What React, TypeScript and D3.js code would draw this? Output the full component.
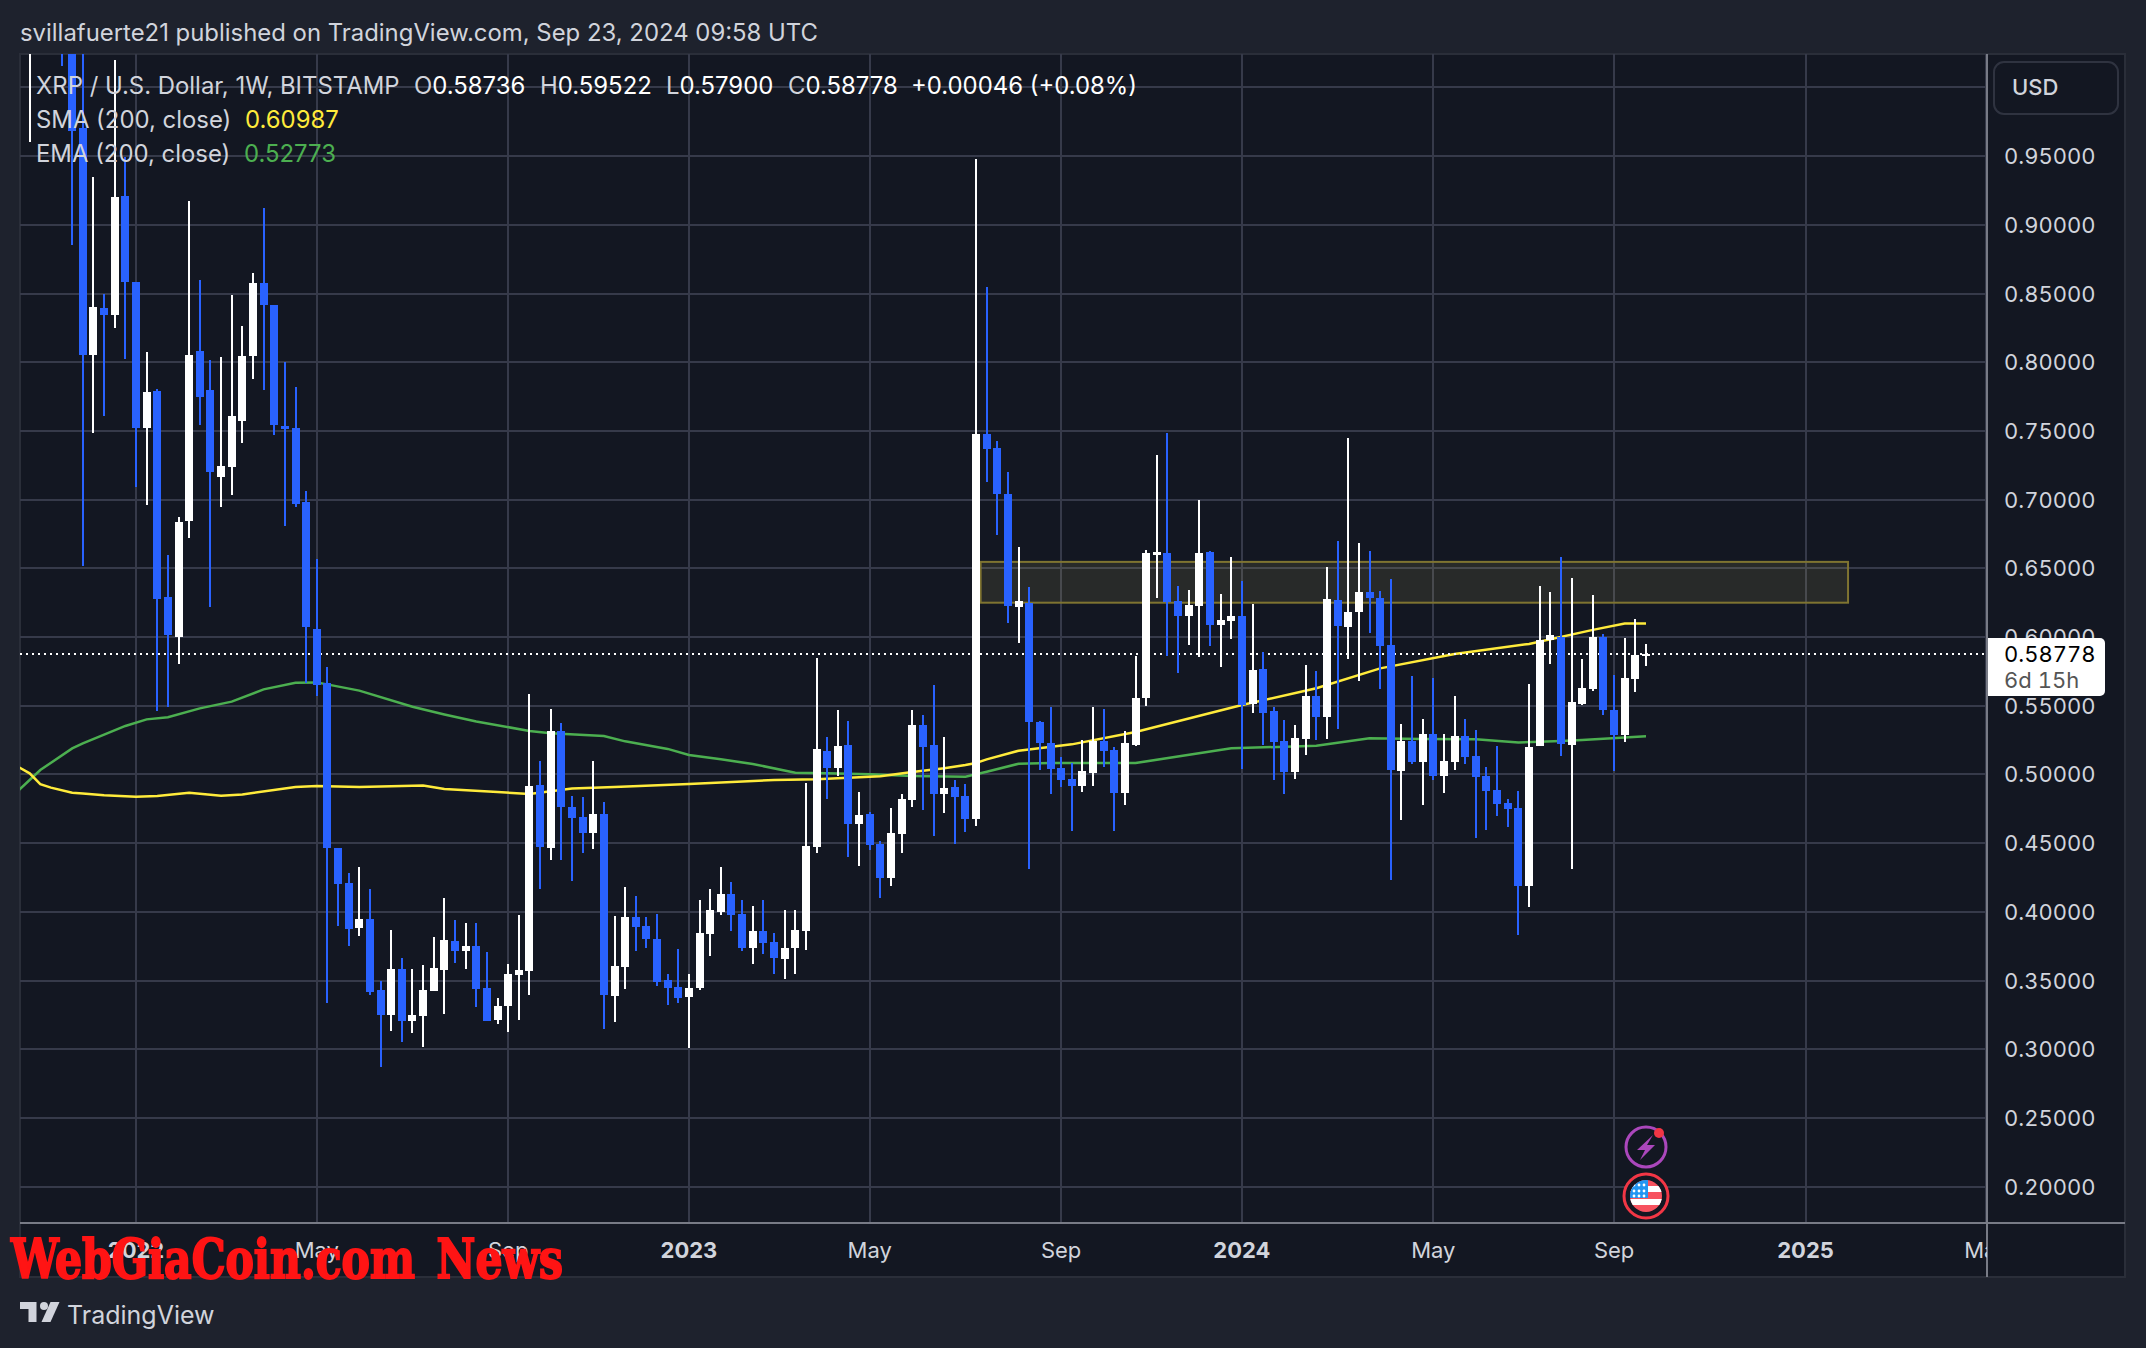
import * as d3 from 'd3';
import React from 'react';

// weekly candles, first one is the week of 2021-10-25
const opens = [
  1.09, 1.12, 1.2, 1.16, 1.06, 0.9707, 0.8052, 0.8394, 0.8344, 0.921, 0.8584, 0.7521, 0.779, 0.6291, 0.6003, 0.6845,
  0.8082, 0.7798, 0.7167, 0.724, 0.7572, 0.8045, 0.8576, 0.8416, 0.7536, 0.7521, 0.6983, 0.6058, 0.5663, 0.4465,
  0.421, 0.3883, 0.3948, 0.3432, 0.325, 0.3584, 0.3206, 0.3242, 0.3424, 0.3577, 0.3788, 0.3715, 0.3752, 0.3446,
  0.3213, 0.3315, 0.3541, 0.357, 0.4924, 0.4465, 0.5317, 0.4763, 0.4691, 0.4574, 0.4713, 0.3388, 0.3599, 0.3963,
  0.3897, 0.3803, 0.3504, 0.3453, 0.3381, 0.3446, 0.3839, 0.4, 0.413, 0.3985, 0.3737, 0.3861, 0.3781, 0.3657,
  0.3737, 0.3861, 0.4472, 0.5171, 0.5047, 0.5215, 0.464, 0.4713, 0.4494, 0.4247, 0.4567, 0.4814, 0.536, 0.5215,
  0.4858, 0.4909, 0.4843, 0.4676, 0.7477, 0.7375, 0.7041, 0.6218, 0.6248, 0.5382, 0.5229, 0.5047, 0.4967, 0.4916,
  0.501, 0.5243, 0.5178, 0.4865, 0.5214, 0.5556, 0.66, 0.6611, 0.6262, 0.6153, 0.6226, 0.6618, 0.6088, 0.6117,
  0.6153, 0.5513, 0.5767, 0.5462, 0.5243, 0.5018, 0.5258, 0.5571, 0.5418, 0.6269, 0.6073, 0.6182, 0.6328, 0.6284,
  0.5942, 0.5025, 0.5244, 0.5091, 0.5295, 0.4989, 0.5091, 0.528, 0.5135, 0.4989, 0.4887, 0.4793, 0.4756, 0.4188,
  0.5207, 0.5979, 0.6001, 0.5215, 0.5513, 0.5622, 0.6001, 0.5469, 0.5287, 0.5695, 0.58736,
];
const highs = [
  1.2, 1.25, 1.35, 1.22, 1.1, 1.05, 0.9348, 0.8496, 1.0199, 0.9496, 0.8584, 0.8072, 0.7805, 0.6597, 0.6874, 0.9173,
  0.8598, 0.8017, 0.8038, 0.8489, 0.8264, 0.8647, 0.9122, 0.8416, 0.8, 0.782, 0.7063, 0.6568, 0.5782, 0.4465,
  0.4283, 0.4327, 0.4167, 0.3497, 0.3868, 0.3665, 0.3584, 0.3614, 0.3817, 0.4101, 0.3941, 0.3919, 0.3919, 0.3708,
  0.3373, 0.3621, 0.3977, 0.5586, 0.5098, 0.5477, 0.5375, 0.4843, 0.4836, 0.5098, 0.48, 0.397, 0.4181, 0.4116,
  0.3963, 0.3985, 0.3548, 0.373, 0.3548, 0.4087, 0.4167, 0.4327, 0.4218, 0.4087, 0.4043, 0.4087, 0.3846, 0.4014,
  0.4014, 0.4938, 0.5848, 0.5273, 0.5469, 0.5389, 0.4873, 0.4727, 0.4516, 0.4756, 0.4858, 0.5469, 0.5433, 0.5651,
  0.5273, 0.496, 0.4931, 0.9479, 0.8547, 0.7426, 0.7201, 0.6655, 0.6364, 0.5389, 0.5491, 0.5127, 0.5083, 0.5251,
  0.5491, 0.5476, 0.52, 0.5316, 0.5862, 0.6633, 0.7324, 0.7484, 0.6371, 0.6342, 0.6997, 0.6626, 0.6313, 0.6582,
  0.6408, 0.624, 0.5891, 0.5491, 0.5396, 0.536, 0.5796, 0.5753, 0.6509, 0.6699, 0.7448, 0.6684, 0.6626, 0.6335,
  0.6422, 0.5367, 0.5717, 0.5404, 0.5702, 0.5295, 0.5571, 0.5404, 0.5324, 0.5055, 0.5207, 0.4822, 0.488, 0.5659,
  0.6372, 0.6328, 0.6583, 0.643, 0.5841, 0.6306, 0.6023, 0.5724, 0.5993, 0.6132, 0.59522,
];
const lows = [
  0.9605, 1.08, 1.1, 1.0158, 0.8856, 0.6519, 0.7487, 0.7611, 0.8249, 0.8023, 0.7094, 0.6963, 0.5464, 0.5493, 0.5806,
  0.6723, 0.7543, 0.6221, 0.6949, 0.7034, 0.7415, 0.7878, 0.7798, 0.747, 0.6808, 0.6949, 0.5666, 0.5571, 0.3337,
  0.3897, 0.3752, 0.3825, 0.3395, 0.2871, 0.3133, 0.3053, 0.3119, 0.3017, 0.3424, 0.3257, 0.3628, 0.3584, 0.3308,
  0.3206, 0.3184, 0.3126, 0.3213, 0.3395, 0.4167, 0.4378, 0.4378, 0.4225, 0.4429, 0.4458, 0.3148, 0.3199, 0.3439,
  0.3715, 0.3737, 0.3461, 0.3322, 0.3337, 0.3007, 0.3432, 0.3679, 0.3977, 0.3861, 0.3715, 0.3621, 0.3694, 0.3548,
  0.3512, 0.3548, 0.3723, 0.4429, 0.4822, 0.4989, 0.44, 0.4334, 0.4451, 0.4101, 0.4188, 0.4429, 0.4763, 0.4742,
  0.4552, 0.472, 0.4494, 0.4582, 0.4625, 0.7128, 0.6742, 0.6102, 0.5956, 0.4312, 0.5032, 0.4858, 0.4908, 0.4588,
  0.4872, 0.4916, 0.5054, 0.4588, 0.4777, 0.5207, 0.5498, 0.6284, 0.5862, 0.5738, 0.5942, 0.5855, 0.5935, 0.5782,
  0.5986, 0.5039, 0.5447, 0.5214, 0.4959, 0.4858, 0.4967, 0.5141, 0.5251, 0.5258, 0.5331, 0.584, 0.568, 0.6029,
  0.5622, 0.4231, 0.4668, 0.5076, 0.4778, 0.496, 0.4865, 0.5033, 0.5076, 0.4538, 0.4596, 0.4698, 0.4618, 0.3833,
  0.4036, 0.5207, 0.5804, 0.5135, 0.4312, 0.5506, 0.5608, 0.5433, 0.5025, 0.5236, 0.56, 0.579,
];
const closes = [
  1.12, 1.2, 1.16, 1.06, 0.9685, 0.8052, 0.8402, 0.8344, 0.9202, 0.8584, 0.7521, 0.7783, 0.6279, 0.6015, 0.6837,
  0.8052, 0.7747, 0.7204, 0.7245, 0.7609, 0.8045, 0.8576, 0.8416, 0.7543, 0.7514, 0.6971, 0.6075, 0.5651, 0.4465,
  0.4203, 0.3876, 0.3948, 0.3417, 0.325, 0.3584, 0.3206, 0.325, 0.3432, 0.3592, 0.3796, 0.3715, 0.3752, 0.3439,
  0.3206, 0.3315, 0.3548, 0.3577, 0.4916, 0.4472, 0.5317, 0.4763, 0.4683, 0.4574, 0.4713, 0.3395, 0.3606, 0.3963,
  0.389, 0.3803, 0.349, 0.3446, 0.3373, 0.3446, 0.3846, 0.4014, 0.413, 0.3977, 0.3737, 0.3861, 0.3774, 0.3664,
  0.3737, 0.3868, 0.448, 0.5186, 0.5047, 0.5207, 0.464, 0.4705, 0.4487, 0.4247, 0.4574, 0.4822, 0.536, 0.52, 0.4858,
  0.4902, 0.4836, 0.4676, 0.7477, 0.7368, 0.7041, 0.6226, 0.6262, 0.5382, 0.5229, 0.5039, 0.4959, 0.4916, 0.5025,
  0.5243, 0.5171, 0.4865, 0.5229, 0.5556, 0.6611, 0.6618, 0.6255, 0.6153, 0.6233, 0.6611, 0.6088, 0.6124, 0.6153,
  0.5505, 0.576, 0.5447, 0.5236, 0.5018, 0.5265, 0.5571, 0.5418, 0.6277, 0.608, 0.6182, 0.6328, 0.6284, 0.5935,
  0.5032, 0.5243, 0.5091, 0.5295, 0.4989, 0.5098, 0.528, 0.5127, 0.4982, 0.488, 0.4785, 0.4749, 0.4188, 0.52, 0.5979,
  0.6015, 0.5222, 0.5528, 0.563, 0.6001, 0.5469, 0.5287, 0.5702, 0.587, 0.58778,
];

const smaWeeks = [-11, -10, -9, -8, -6, -5, -3, 0, 2, 5, 8, 10, 15, 17, 21, 27, 29, 34, 37, 41, 45, 52, 60, 64, 70, 73, 76, 78, 79, 80, 83, 88, 94, 104, 111, 117, 124, 131, 137, 140, 142];
const smaValues = [0.5052, 0.5008, 0.493, 0.4904, 0.4867, 0.4862, 0.4848, 0.4838, 0.4843, 0.4867, 0.4845, 0.4855, 0.4909, 0.4916, 0.4909, 0.4919, 0.4894, 0.4872, 0.4858, 0.4897, 0.4909, 0.4931, 0.496, 0.4965, 0.4987, 0.5018, 0.5045, 0.5069, 0.5084, 0.511, 0.5173, 0.5219, 0.5309, 0.5505, 0.5627, 0.5772, 0.5877, 0.595, 0.6052, 0.6098, 0.60987];
const emaWeeks = [-11, -9, -6, -5, -1, 1, 3, 6, 9, 12, 15, 17, 21, 26, 29, 32, 37, 39, 44, 46, 50, 52, 55, 58, 62, 65, 69, 73, 78, 79, 80, 83, 86, 94, 103, 111, 116, 121, 126, 130, 134, 136, 142];
const emaValues = [0.4887, 0.5032, 0.519, 0.5226, 0.5353, 0.5401, 0.5416, 0.5481, 0.553, 0.5619, 0.5668, 0.567, 0.561, 0.5493, 0.5437, 0.5385, 0.5317, 0.53, 0.528, 0.5241, 0.5186, 0.5142, 0.511, 0.5076, 0.5013, 0.5008, 0.5001, 0.4989, 0.4984, 0.5001, 0.502, 0.5078, 0.5083, 0.5083, 0.519, 0.5209, 0.5263, 0.5258, 0.5256, 0.5232, 0.5244, 0.5251, 0.52773];

const priceTicks = [0.2, 0.25, 0.3, 0.35, 0.4, 0.45, 0.5, 0.55, 0.6, 0.65, 0.7, 0.75, 0.8, 0.85, 0.9, 0.95, 1];
const timeTicks = [
  { date: '2022-01-03', label: '2022', bold: true },
  { date: '2022-05-02', label: 'May' },
  { date: '2022-09-05', label: 'Sep' },
  { date: '2023-01-02', label: '2023', bold: true },
  { date: '2023-05-01', label: 'May' },
  { date: '2023-09-04', label: 'Sep' },
  { date: '2024-01-01', label: '2024', bold: true },
  { date: '2024-05-06', label: 'May' },
  { date: '2024-09-02', label: 'Sep' },
  { date: '2025-01-06', label: '2025', bold: true },
  { date: '2025-05-05', label: 'May' },
];
const zoneTop = 0.6547;
const zoneBottom = 0.625;
const zoneStart = '2023-07-13';
const zoneEnd = '2025-02-03';
const lastPrice = 0.58778;
const FONT = 'Inter, "Noto Sans", sans-serif';

const firstWeek = new Date(Date.UTC(2022, 0, 3));
const lastWeek = new Date(Date.UTC(2024, 8, 23));
const weekDate = (k: number) => d3.utcMonday.offset(firstWeek, k);

const width = 2146;
const height = 1348;
const pane = { left: 20, top: 54, right: 1987, bottom: 1223, outerRight: 2125, outerBottom: 1277 };

const x = d3.scaleUtc().domain([firstWeek, lastWeek]).range([136, 1646]);
const y = d3.scaleLinear().domain([0.2, 0.95]).range([1186.7, 156.1]);

const linePath = (weeks: number[], values: number[]) =>
  d3.line<number>()
    .x((k) => x(weekDate(k)))
    .y((_, i) => y(values[i]))(weeks) as string;

const Candle = ({ i }: { i: number }) => {
  const cx = Math.round(x(weekDate(i - 10)));
  const up = closes[i] >= opens[i];
  const color = up ? '#ffffff' : '#2962ff';
  const top = Math.round(y(Math.max(opens[i], closes[i])));
  const bottom = Math.round(y(Math.min(opens[i], closes[i])));
  const hi = Math.round(y(highs[i]));
  const lo = Math.round(y(lows[i]));
  return (
    <g fill={color}>
      <rect x={cx - 1} width={2} y={hi} height={lo - hi} />
      <rect x={cx - 4} width={8} y={top} height={Math.max(bottom - top, 2)} />
    </g>
  );
};

export default function App() {
  const iconX = Math.round(x(lastWeek));
  const lastY = Math.round(y(lastPrice));
  const legendText = { fontFamily: FONT, fontSize: 23.9, dominantBaseline: 'central' as const };
  const axisText = { fontFamily: FONT, fontSize: 22, dominantBaseline: 'central' as const, style: { fontVariantNumeric: 'tabular-nums' } };

  return (
    <svg width={width} height={height} style={{ position: 'absolute', left: 0, top: 0, display: 'block' }}>
      <defs>
        <clipPath id="pane">
          <rect x={pane.left} y={pane.top} width={pane.right - pane.left} height={pane.bottom - pane.top} />
        </clipPath>
        <clipPath id="timeAxis">
          <rect x={pane.left} y={pane.bottom} width={pane.right - pane.left} height={pane.outerBottom - pane.bottom} />
        </clipPath>
        <clipPath id="flag">
          <circle cx={iconX} cy={1196} r={16} />
        </clipPath>
      </defs>

      <rect width={width} height={height} fill="#1e222d" />
      <text x={20} y={32} fill="#d1d4dc" fontFamily={FONT} fontSize={23.9} dominantBaseline="central">
        svillafuerte21 published on TradingView.com, Sep 23, 2024 09:58 UTC
      </text>

      <rect x={pane.left} y={pane.top} width={pane.outerRight - pane.left} height={pane.outerBottom - pane.top}
        fill="#131722" stroke="#2a2e39" strokeWidth={2} />

      <g clipPath="url(#pane)">
        {priceTicks.map((p) => (
          <rect key={p} x={pane.left} width={pane.right - pane.left} y={Math.round(y(p)) - 1} height={2} fill="#363a4a" />
        ))}
        {timeTicks.map((t) => (
          <rect key={t.date} x={Math.round(x(new Date(t.date))) - 1} width={2} y={pane.top} height={pane.bottom - pane.top} fill="#363a4a" />
        ))}

        <rect
          x={x(new Date(zoneStart))}
          y={y(zoneTop)}
          width={x(new Date(zoneEnd)) - x(new Date(zoneStart))}
          height={y(zoneBottom) - y(zoneTop)}
          fill="rgba(255,240,120,0.09)"
          stroke="#7f7431"
          strokeWidth={2}
        />

        <path d={linePath(emaWeeks, emaValues)} fill="none" stroke="#4caf50" strokeWidth={2.5} />
        <path d={linePath(smaWeeks, smaValues)} fill="none" stroke="#ffeb3b" strokeWidth={2.5} />

        <line x1={pane.left} x2={pane.right} y1={lastY} y2={lastY} stroke="#ffffff" strokeWidth={2} strokeDasharray="2 4" />

        {opens.map((_, i) => <Candle key={i} i={i} />)}
      </g>

      {/* legend */}
      <g {...legendText}>
        <text x={36} y={85} fill="#d1d4dc">XRP / U.S. Dollar, 1W, BITSTAMP</text>
        <text x={414} y={85} fill="#d1d4dc">O<tspan fill="#ffffff">0.58736</tspan></text>
        <text x={540} y={85} fill="#d1d4dc">H<tspan fill="#ffffff">0.59522</tspan></text>
        <text x={666} y={85} fill="#d1d4dc">L<tspan fill="#ffffff">0.57900</tspan></text>
        <text x={788} y={85} fill="#d1d4dc">C<tspan fill="#ffffff">0.58778</tspan></text>
        <text x={911} y={85} fill="#ffffff">+0.00046 (+0.08%)</text>
        <text x={36} y={119} fill="#d1d4dc">SMA (200, close)</text>
        <text x={245} y={119} fill="#ffeb3b">0.60987</text>
        <text x={36} y={153} fill="#d1d4dc">EMA (200, close)</text>
        <text x={244} y={153} fill="#4caf50">0.52773</text>
      </g>

      {/* axis lines */}
      <rect x={pane.right - 1} width={2} y={pane.top} height={pane.outerBottom - pane.top} fill="#787b86" />
      <rect x={pane.left} width={pane.outerRight - pane.left} y={pane.bottom - 1} height={2} fill="#787b86" />

      {/* price axis */}
      <rect x={1994} y={62} width={124} height={52} rx={10} fill="none" stroke="#2f3340" strokeWidth={2} />
      <text x={2012} y={87} fill="#d1d4dc" fontFamily={FONT} fontSize={22} fontWeight={500} dominantBaseline="central">USD</text>
      {priceTicks.filter((p) => p < 1).map((p) => (
        <text key={p} x={2004} y={y(p)} fill="#d1d4dc" {...axisText}>
          {p.toFixed(5)}
        </text>
      ))}
      <path d={`M1988,638H2100a5,5 0 0 1 5,5V691a5,5 0 0 1 -5,5H1988Z`} fill="#ffffff" />
      <text x={2004} y={lastY} fill="#000000" {...axisText}>{lastPrice.toFixed(5)}</text>
      <text x={2004} y={680} fill="#555555" {...axisText}>6d 15h</text>

      {/* time axis */}
      <g clipPath="url(#timeAxis)">
        {timeTicks.map((t) => (
          <text key={t.date} x={x(new Date(t.date))} y={1250} textAnchor="middle" dominantBaseline="central"
            fill="#d1d4dc" fontFamily={FONT} fontSize={22} fontWeight={t.bold ? 700 : 400}>
            {t.label}
          </text>
        ))}
      </g>

      {/* event icons */}
      <circle cx={iconX} cy={1147} r={20} fill="none" stroke="#ab47bc" strokeWidth={3} />
      <circle cx={iconX + 13} cy={1133} r={5} fill="#f23645" />
      <path d={`M${iconX + 7},${1135}L${iconX - 9},${1150}H${iconX - 1}L${iconX - 6},${1160}L${iconX + 9},${1145}H${iconX + 1}Z`} fill="#ab47bc" />
      <circle cx={iconX} cy={1196} r={22} fill="#131722" stroke="#f23645" strokeWidth={3} />
      <g clipPath="url(#flag)">
        <rect x={iconX - 16} y={1180} width={32} height={32} fill="#f7525f" />
        <rect x={iconX - 16} y={1186} width={32} height={6} fill="#ffffff" />
        <rect x={iconX - 16} y={1199} width={32} height={6} fill="#ffffff" />
        <rect x={iconX - 16} y={1180} width={18} height={18} fill="#2196f3" />
        {[1185, 1191, 1196].map((sy) => [-12, -7, -2].map((dx) => (
          <circle key={`${sy}${dx}`} cx={iconX + dx} cy={sy} r={1.4} fill="#ffffff" />
        )))}
      </g>

      {/* watermark */}
      <text x={11} y={1278} fill="#ff1414" fontFamily='"DejaVu Serif", serif' fontWeight={700} fontSize={55}
        textLength={552} lengthAdjust="spacingAndGlyphs" stroke="#ff1414" strokeWidth={2}
        style={{ fontStretch: 'condensed', wordSpacing: 8 }}>
        WebGiaCoin.com News
      </text>

      {/* footer logo */}
      <path d="M20,1302H36.5V1322H28.5V1309H20Z" fill="#d1d4dc" />
      <circle cx={44} cy={1306} r={4} fill="#d1d4dc" />
      <path d="M50.5,1302H59.5L50.5,1322H41.5Z" fill="#d1d4dc" />
      <text x={67} y={1315} fill="#d1d4dc" fontFamily={FONT} fontSize={25} dominantBaseline="central">TradingView</text>
    </svg>
  );
}
